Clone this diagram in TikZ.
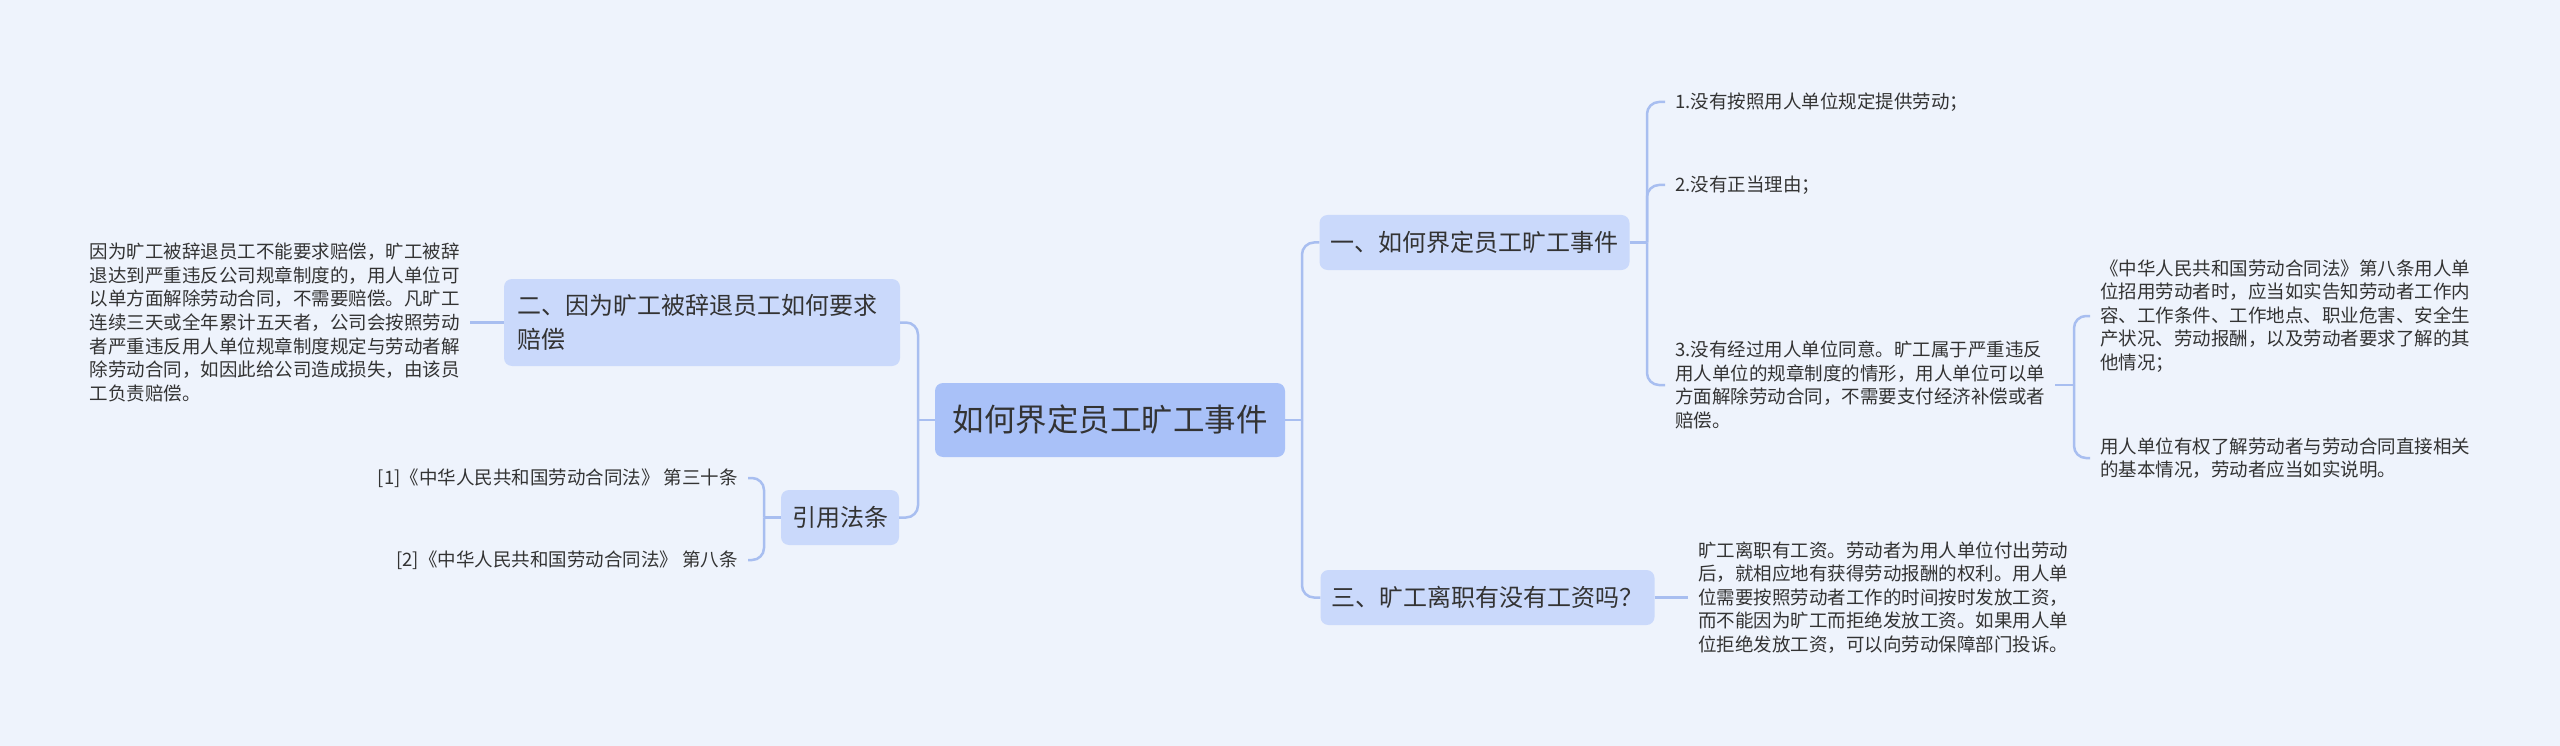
\documentclass[tikz,border=0pt]{standalone}
\usepackage{fontspec}
\setmainfont{Noto Sans CJK SC}
\definecolor{bg}{HTML}{EEF3FC}
\definecolor{rootfill}{HTML}{A9C1F8}
\definecolor{brfill}{HTML}{CAD9FB}
\definecolor{linec}{HTML}{A8BEF0}
\definecolor{txt}{HTML}{333333}
\tikzset{
  rootbox/.style={rectangle, rounded corners=8pt, fill=rootfill, text=txt,
    font=\fontsize{31.5}{38}\selectfont, minimum width=350pt, minimum height=74pt, inner sep=0pt},
  branchbox/.style={rectangle, rounded corners=8pt, fill=brfill, text=txt,
    font=\fontsize{24}{34}\selectfont, minimum height=55pt, inner xsep=11pt, inner ysep=0pt},
  leaf/.style={text=txt, font=\fontsize{18.5}{23.6}\selectfont, align=left, inner xsep=10pt, inner ysep=0pt},
  link/.style={draw=linec, line width=2.5pt, rounded corners=12pt}
}
\begin{document}
\begin{tikzpicture}[x=1pt,y=-1pt]
\fill[bg] (0,0) rectangle (2560,746);
\useasboundingbox (0,0) rectangle (2560,746);

% root
\node[rootbox] (root) at (1110,420) {如何界定员工旷工事件};

% branches
\node[branchbox, minimum width=309pt] (b1) at (1474.5,242.5) {一、如何界定员工旷工事件};
\node[branchbox, minimum width=333pt] (b3) at (1487.5,597.5) {三、旷工离职有没有工资吗？};
\node[branchbox, text width=370pt, minimum height=87pt, inner xsep=13pt, align=left] (b2) at (702,322.5) {二、因为旷工被辞退员工如何要求\\赔偿};
\node[branchbox, minimum width=118pt] (b4) at (840,517.5) {引用法条};

% leaves of b1
\node[leaf, anchor=west] (l1) at (1665,102) {1.没有按照用人单位规定提供劳动；};
\node[leaf, anchor=west] (l2) at (1665,185) {2.没有正当理由；};
\node[leaf, anchor=west] (l3) at (1665,385) {3.没有经过用人单位同意。旷工属于严重违反\\用人单位的规章制度的情形，用人单位可以单\\方面解除劳动合同，不需要支付经济补偿或者\\赔偿。};
\node[leaf, anchor=west] (s1) at (2090,316) {《中华人民共和国劳动合同法》第八条用人单\\位招用劳动者时，应当如实告知劳动者工作内\\容、工作条件、工作地点、职业危害、安全生\\产状况、劳动报酬，以及劳动者要求了解的其\\他情况；};
\node[leaf, anchor=west] (s2) at (2090,458) {用人单位有权了解劳动者与劳动合同直接相关\\的基本情况，劳动者应当如实说明。};

% leaf of b3
\node[leaf, anchor=west] (l4) at (1688,597.5) {旷工离职有工资。劳动者为用人单位付出劳动\\后，就相应地有获得劳动报酬的权利。用人单\\位需要按照劳动者工作的时间按时发放工资，\\而不能因为旷工而拒绝发放工资。如果用人单\\位拒绝发放工资，可以向劳动保障部门投诉。};

% leaf of b2
\node[leaf, anchor=east] (l5) at (470,322.5) {因为旷工被辞退员工不能要求赔偿，旷工被辞\\退达到严重违反公司规章制度的，用人单位可\\以单方面解除劳动合同，不需要赔偿。凡旷工\\连续三天或全年累计五天者，公司会按照劳动\\者严重违反用人单位规章制度规定与劳动者解\\除劳动合同，如因此给公司造成损失，由该员\\工负责赔偿。};

% leaves of b4
\node[leaf, anchor=east, align=right] (r1) at (748,478) {[1]《中华人民共和国劳动合同法》 第三十条};
\node[leaf, anchor=east, align=right] (r2) at (748,560) {[2]《中华人民共和国劳动合同法》 第八条};

% junctions
\coordinate (jR) at (1302,420);
\coordinate (jL) at (918,420);
\coordinate (j1) at (1647,242.5);
\coordinate (j3) at (2074,385);
\coordinate (j4) at (764,517.5);

% connectors
\draw[link] (root.east) -- (jR);
\draw[link] (jR) |- (b1.west);
\draw[link] (jR) |- (b3.west);
\draw[link] (root.west) -- (jL);
\draw[link] (jL) |- (b2.east);
\draw[link] (jL) |- (b4.east);
\draw[link] (b1.east) -- (j1);
\draw[link] (j1) |- (l1.west);
\draw[link] (j1) |- (l2.west);
\draw[link] (j1) |- (l3.west);
\draw[link] (l3.east) -- (j3);
\draw[link] (j3) |- (s1.west);
\draw[link] (j3) |- (s2.west);
\draw[link] (b3.east) -- (l4.west);
\draw[link] (b2.west) -- (l5.east);
\draw[link] (b4.west) -- (j4);
\draw[link] (j4) |- (r1.east);
\draw[link] (j4) |- (r2.east);
\end{tikzpicture}
\end{document}
